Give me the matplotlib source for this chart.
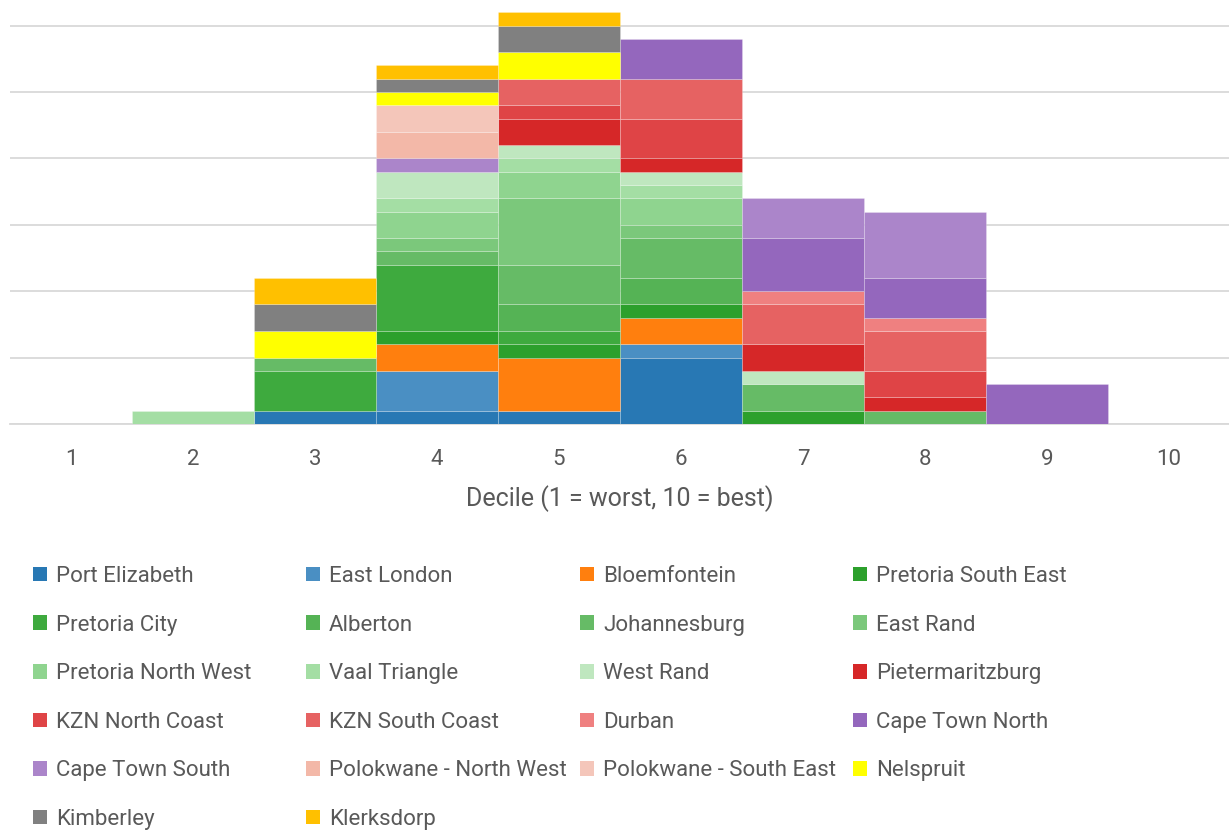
import matplotlib.pyplot as plt
import numpy as np
from matplotlib.patches import Patch

# stacked count of areas per decile, one list per area (deciles 1..10)
deciles = np.arange(1, 11)
tick_labels = [str(d) for d in deciles]

areas = [
    "Port Elizabeth", "East London", "Bloemfontein", "Pretoria South East",
    "Pretoria City", "Alberton", "Johannesburg", "East Rand",
    "Pretoria North West", "Vaal Triangle", "West Rand", "Pietermaritzburg",
    "KZN North Coast", "KZN South Coast", "Durban", "Cape Town North",
    "Cape Town South", "Polokwane - North West", "Polokwane - South East", "Nelspruit",
    "Kimberley", "Klerksdorp",
]

port_elizabeth = [0, 0, 1, 1, 1, 5, 0, 0, 0, 0]
east_london = [0, 0, 0, 3, 0, 1, 0, 0, 0, 0]
bloemfontein = [0, 0, 0, 2, 4, 2, 0, 0, 0, 0]
pretoria_south_east = [0, 0, 0, 1, 1, 1, 1, 0, 0, 0]
pretoria_city = [0, 0, 3, 5, 1, 0, 0, 0, 0, 0]
alberton = [0, 0, 0, 0, 2, 2, 0, 0, 0, 0]
johannesburg = [0, 0, 1, 1, 3, 3, 2, 1, 0, 0]
east_rand = [0, 0, 0, 1, 5, 1, 0, 0, 0, 0]
pretoria_north_west = [0, 0, 0, 2, 2, 2, 0, 0, 0, 0]
vaal_triangle = [0, 1, 0, 1, 1, 1, 0, 0, 0, 0]
west_rand = [0, 0, 0, 2, 1, 1, 1, 0, 0, 0]
pietermaritzburg = [0, 0, 0, 0, 2, 1, 2, 1, 0, 0]
kzn_north_coast = [0, 0, 0, 0, 1, 3, 0, 2, 0, 0]
kzn_south_coast = [0, 0, 0, 0, 2, 3, 3, 3, 0, 0]
durban = [0, 0, 0, 0, 0, 0, 1, 1, 0, 0]
cape_town_north = [0, 0, 0, 0, 0, 3, 4, 3, 3, 0]
cape_town_south = [0, 0, 0, 1, 0, 0, 3, 5, 0, 0]
polokwane_nw = [0, 0, 0, 2, 0, 0, 0, 0, 0, 0]
polokwane_se = [0, 0, 0, 2, 0, 0, 0, 0, 0, 0]
nelspruit = [0, 0, 2, 1, 2, 0, 0, 0, 0, 0]
kimberley = [0, 0, 2, 1, 2, 0, 0, 0, 0, 0]
klerksdorp = [0, 0, 2, 1, 1, 0, 0, 0, 0, 0]

series = [
    port_elizabeth, east_london, bloemfontein, pretoria_south_east,
    pretoria_city, alberton, johannesburg, east_rand,
    pretoria_north_west, vaal_triangle, west_rand, pietermaritzburg,
    kzn_north_coast, kzn_south_coast, durban, cape_town_north,
    cape_town_south, polokwane_nw, polokwane_se, nelspruit,
    kimberley, klerksdorp,
]

colors = [
    "#2878b4", "#4a8fc3", "#ff7f0e", "#2ca02c",
    "#3eaa3e", "#55b355", "#66bb66", "#7bc87b",
    "#8fd48f", "#a4dea4", "#bfe7bf", "#d62728",
    "#df4446", "#e66262", "#ef8080", "#9467bd",
    "#ab85ca", "#f3b8a8", "#f4c6ba", "#ffff00",
    "#808080", "#ffc000",
]

plt.rcParams["font.family"] = ["Roboto", "DejaVu Sans"]
text_color = "#595959"

fig = plt.figure(figsize=(12.29, 8.36), dpi=100)
ax = fig.add_axes([10 / 1229, 412 / 836, 1220 / 1229, 424 / 836])

bottom = np.zeros(len(deciles))
for name, vals, col in zip(areas, series, colors):
    vals = np.array(vals, dtype=float)
    keep = vals > 0
    if keep.any():
        ax.bar(deciles[keep], vals[keep], bottom=bottom[keep], width=1.0,
               color=col, edgecolor=(1, 1, 1, 0.25), linewidth=0.6, zorder=3)
    bottom += vals

ax.set_xlim(0.5, 10.5)
ax.set_ylim(0, 31.93)
ax.set_yticks(np.arange(0, 31, 5))
ax.yaxis.grid(True, color="#d9d9d9", linewidth=1.3, zorder=0)
ax.tick_params(axis="y", left=False, labelleft=False)
ax.set_xticks(deciles)
ax.set_xticklabels(tick_labels)
ax.tick_params(axis="x", length=0, pad=18, labelsize=16, labelcolor=text_color)
for side in ["top", "right", "left"]:
    ax.spines[side].set_visible(False)
ax.spines["bottom"].set_color("#d9d9d9")
ax.spines["bottom"].set_linewidth(1.3)
ax.set_xlabel("Decile (1 = worst, 10 = best)", fontsize=18, color=text_color, labelpad=11)

# legend laid out row by row in four fixed columns
handles = [Patch(facecolor=c, edgecolor="none") for c in colors]
col_x = [33, 306, 580, 853]
for c in range(4):
    leg = fig.legend(handles[c::4], areas[c::4], loc="upper left",
                     bbox_to_anchor=(col_x[c] / 1229, 1 - 566 / 836),
                     frameon=False, fontsize=16, handlelength=0.63, handleheight=0.63,
                     handletextpad=0.4, labelspacing=1.24, borderpad=0,
                     borderaxespad=0)
    for t in leg.get_texts():
        t.set_color(text_color)

fig.savefig("out.png", dpi=100)
